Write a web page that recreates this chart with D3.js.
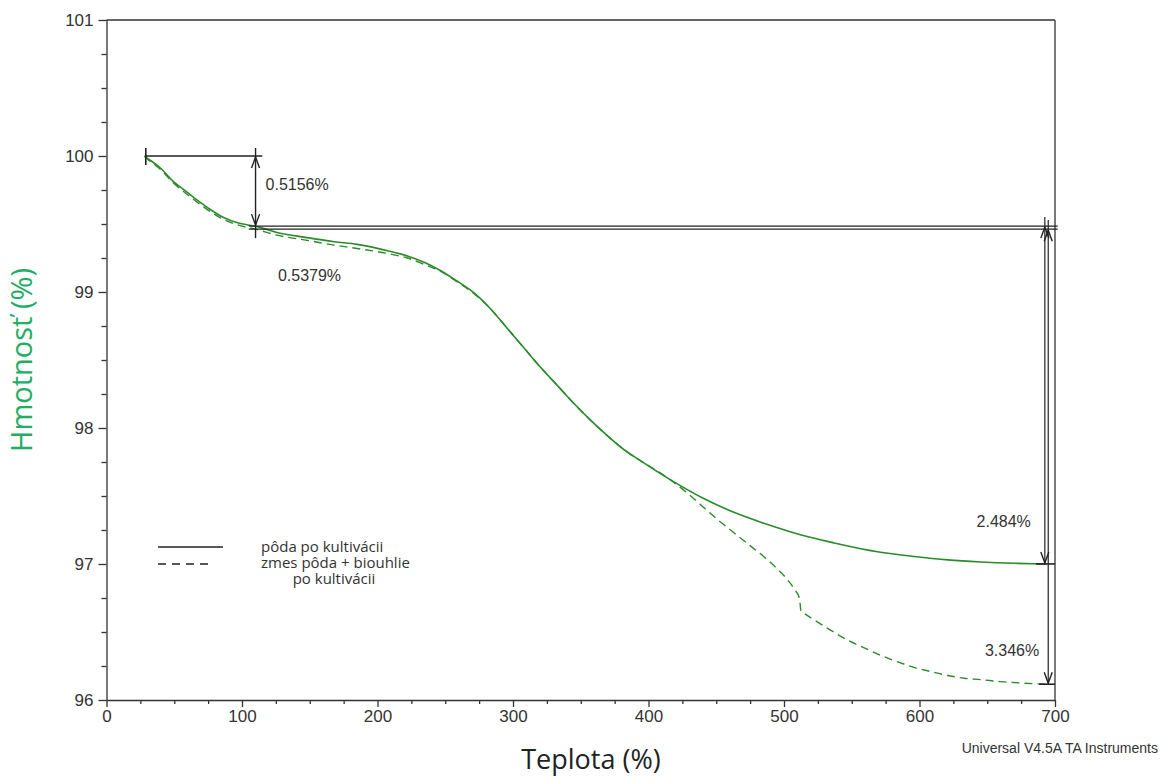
<!DOCTYPE html>
<html>
<head>
<meta charset="utf-8">
<script src="https://cdn.jsdelivr.net/npm/d3@7"></script>
<style>
  html, body { margin: 0; padding: 0; background: #fff; }
  svg { display: block; }
</style>
</head>
<body>
<svg id="chart" width="1162" height="778"></svg>
<script>
// ---------- data ----------
const solidTemp = [28, 30, 40, 49, 58, 67, 76, 86, 98, 110, 125, 148, 168, 185, 209, 222, 234, 246, 258, 271, 284, 296, 308, 320, 333, 345, 358, 370, 382, 394, 416, 440, 463, 488, 512, 537, 569, 596, 621, 645, 670, 693];
const solidMass = [100.0, 99.985, 99.91, 99.815, 99.745, 99.675, 99.61, 99.55, 99.505, 99.484, 99.44, 99.40, 99.37, 99.35, 99.30, 99.265, 99.22, 99.16, 99.085, 98.995, 98.87, 98.73, 98.59, 98.45, 98.31, 98.18, 98.05, 97.94, 97.84, 97.76, 97.62, 97.485, 97.38, 97.29, 97.215, 97.155, 97.09, 97.055, 97.03, 97.015, 97.005, 97.0];

const dashedTemp = [28, 30, 40, 49, 58, 67, 76, 86, 98, 110, 125, 148, 168, 185, 209, 222, 234, 246, 258, 271, 284, 296, 308, 320, 333, 345, 358, 370, 382, 394, 416, 430, 438, 450, 463, 475, 488, 496, 503, 508, 511.5, 512.5, 516, 522, 535, 547, 560, 571, 584, 596, 608, 621, 633, 645, 660, 675, 693];
const dashedMass = [100.0, 99.98, 99.90, 99.805, 99.73, 99.66, 99.595, 99.535, 99.49, 99.462, 99.42, 99.38, 99.345, 99.32, 99.28, 99.25, 99.205, 99.155, 99.08, 98.99, 98.87, 98.73, 98.59, 98.45, 98.31, 98.18, 98.05, 97.94, 97.84, 97.76, 97.62, 97.51, 97.44, 97.335, 97.23, 97.135, 97.03, 96.955, 96.88, 96.81, 96.745, 96.655, 96.63, 96.59, 96.51, 96.44, 96.38, 96.33, 96.28, 96.24, 96.21, 96.18, 96.16, 96.15, 96.135, 96.125, 96.116];

const xTickLabels = [0, 100, 200, 300, 400, 500, 600, 700];
const yTickLabels = [96, 97, 98, 99, 100, 101];

const seriesNames = ["pôda po kultivácii", "zmes pôda + biouhlie", "po kultivácii"];

// annotation values (temperatures °C and masses %)
const stepStartT = 29, stepEndT = 115, stepT = 110;
const startMass = 100.0;
const plateauSolid = 99.4844, plateauDashed = 99.4621;
const finalSolid = 97.0004, finalDashed = 96.1161;
const arrowT1 = 692.5, arrowT2 = 695;
const annotTexts = ["0.5156%", "0.5379%", "2.484%", "3.346%"];

// ---------- setup ----------
const svg = d3.select("#chart");
const pLeft = 106.5, pRight = 1055, pTop = 20, pBottom = 700;
const x = d3.scaleLinear().domain([0, 700]).range([pLeft, pRight]);
const y = d3.scaleLinear().domain([96, 101]).range([pBottom, pTop]);
const axisColor = "#333";
const tickFont = "'Liberation Sans', Arial, sans-serif";

svg.append("rect").attr("width", 1162).attr("height", 778).attr("fill", "#fff");

// ---------- axes ----------
const gx = svg.append("g").attr("transform", `translate(0,${pBottom})`)
  .call(d3.axisBottom(x).tickValues(xTickLabels).tickSize(7).tickPadding(3).tickFormat(d3.format("d")));
const gxm = svg.append("g").attr("transform", `translate(0,${pBottom})`)
  .call(d3.axisBottom(x).tickValues(d3.range(0, 701, 25).filter(d => d % 100 !== 0)).tickSize(4).tickFormat(""));
gxm.select(".domain").remove();

const gy = svg.append("g").attr("transform", `translate(${pLeft},0)`)
  .call(d3.axisLeft(y).tickValues(yTickLabels).tickSize(8).tickPadding(5).tickFormat(d3.format("d")));
const gym = svg.append("g").attr("transform", `translate(${pLeft},0)`)
  .call(d3.axisLeft(y).tickValues(d3.range(96, 101.01, 0.25).filter(d => Math.abs(d - Math.round(d)) > 1e-6)).tickSize(5).tickFormat(""));
gym.select(".domain").remove();

[gx, gxm, gy, gym].forEach(g => {
  g.selectAll("path,line").attr("stroke", axisColor).attr("stroke-width", 1.3);
  g.selectAll("text").attr("font-family", tickFont).attr("font-size", 17).attr("fill", "#333");
});
gx.select(".domain").attr("d", `M${pLeft},0.5H${pRight}`);
gy.select(".domain").attr("d", `M0.5,${pBottom}V${pTop}`);

// frame top + right
svg.append("line").attr("x1", pLeft).attr("x2", pRight).attr("y1", pTop).attr("y2", pTop)
  .attr("stroke", axisColor).attr("stroke-width", 1.3);
svg.append("line").attr("x1", pRight).attr("x2", pRight).attr("y1", pTop).attr("y2", pBottom)
  .attr("stroke", axisColor).attr("stroke-width", 1.3);

// ---------- curves ----------
const green = "#2b8a2b";
const line = d3.line().x(d => x(d[0])).y(d => y(d[1])).curve(d3.curveMonotoneX);
const solidData = solidTemp.map((t, i) => [t, solidMass[i]]);
const dashedData = dashedTemp.map((t, i) => [t, dashedMass[i]]);

svg.append("path").datum(dashedData).attr("d", line).attr("fill", "none")
  .attr("stroke", green).attr("stroke-width", 1.4).attr("stroke-dasharray", "8,5");
svg.append("path").datum(solidData).attr("d", line).attr("fill", "none")
  .attr("stroke", green).attr("stroke-width", 1.6);

// ---------- annotations ----------
const ink = "#222";
const ann = svg.append("g").attr("stroke", ink).attr("stroke-width", 1.4).attr("fill", "none");
function seg(x1, y1, x2, y2, w) {
  ann.append("line").attr("x1", x1).attr("y1", y1).attr("x2", x2).attr("y2", y2)
    .attr("stroke-width", w || 1.4);
}
function head(px, py, dir) { // dir -1 = up, +1 = down; apex at (px,py)
  ann.append("path").attr("d", `M${px - 4},${py - dir * 11}L${px},${py}L${px + 4},${py - dir * 11}`);
}

// top step
const y100 = y(startMass), yP1 = y(plateauSolid), yP2 = y(plateauDashed);
seg(x(stepStartT), y100, x(stepEndT), y100, 1.6);
seg(x(stepStartT), y100 - 8, x(stepStartT), y100 + 9, 1.6);
seg(x(stepT), y100 - 8, x(stepT), yP1 + 12, 1.4);
head(x(stepT), y100 + 1, -1);
head(x(stepT), yP1 - 1, 1);

// plateau lines (double)
seg(x(stepT - 5), yP1, x(702), yP1, 1.1);
seg(x(stepT - 5), yP2, x(702), yP2, 1.1);

// right arrows
const xa1 = x(arrowT1), xa2 = x(arrowT2);
seg(xa1, yP1 - 9, xa1, y(finalSolid), 1.2);
seg(xa2, yP1 - 6, xa2, y(finalDashed), 1.2);
head(xa1, yP1 + 1, -1);
head(xa2, yP2 + 1, -1);
head(xa1, y(finalSolid) - 1, 1);
head(xa2, y(finalDashed) - 1, 1);
seg(xa1 - 9, y(finalSolid), pRight, y(finalSolid), 1.6);
seg(xa2 - 9, y(finalDashed), pRight, y(finalDashed), 1.6);

// annotation texts
const at = svg.append("g").attr("font-family", tickFont).attr("font-size", 16).attr("fill", "#333");
at.append("text").attr("x", x(stepT) + 10).attr("y", y(99.75)).text(annotTexts[0]);
at.append("text").attr("x", x(126.5)).attr("y", y(99.08)).text(annotTexts[1]);
at.append("text").attr("x", xa1 - 14).attr("y", y(97.27)).attr("text-anchor", "end").text(annotTexts[2]);
at.append("text").attr("x", xa2 - 9).attr("y", y(96.32)).attr("text-anchor", "end").text(annotTexts[3]);

// ---------- legend ----------
const lg = svg.append("g");
lg.append("line").attr("x1", 158).attr("x2", 223).attr("y1", 547).attr("y2", 547)
  .attr("stroke", "#222").attr("stroke-width", 1.4);
lg.append("line").attr("x1", 158).attr("x2", 212).attr("y1", 564).attr("y2", 564)
  .attr("stroke", "#222").attr("stroke-width", 1.4).attr("stroke-dasharray", "8,6");
const lt = lg.append("g").attr("font-family", "'Open Sans', 'Noto Sans', sans-serif").attr("font-size", 15).attr("fill", "#333");
lt.append("text").attr("x", 261).attr("y", 552).text(seriesNames[0]);
lt.append("text").attr("x", 261).attr("y", 568).text(seriesNames[1]);
lt.append("text").attr("x", 334).attr("y", 584).attr("text-anchor", "middle").text(seriesNames[2]);

// ---------- titles ----------
svg.append("text").attr("transform", "translate(32,360) rotate(-90)")
  .attr("text-anchor", "middle").attr("font-family", "'Open Sans', 'Noto Sans', sans-serif")
  .attr("font-size", 29).attr("fill", "#21ad63").text("Hmotnosť (%)");
svg.append("text").attr("x", 591).attr("y", 769)
  .attr("text-anchor", "middle").attr("font-family", "'Open Sans', 'Noto Sans', sans-serif")
  .attr("font-size", 27).attr("fill", "#222").text("Teplota (%)");
svg.append("text").attr("x", 1158).attr("y", 753)
  .attr("text-anchor", "end").attr("font-family", tickFont)
  .attr("font-size", 14).attr("fill", "#333").text("Universal V4.5A TA Instruments");
</script>
</body>
</html>
